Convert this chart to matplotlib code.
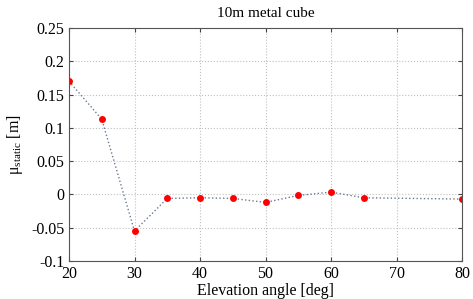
import numpy as np
import matplotlib
matplotlib.use("Agg")
import matplotlib.pyplot as plt

plt.rcParams['font.family'] = ['Liberation Serif', 'DejaVu Serif']
plt.rcParams['mathtext.fontset'] = 'custom'
plt.rcParams['mathtext.rm'] = 'Liberation Serif'
plt.rcParams['mathtext.it'] = 'Liberation Serif'

angle = [20, 25, 30, 35, 40, 45, 50, 55, 60, 65, 80]
mu_static = [0.170, 0.113, -0.055, -0.006, -0.005, -0.006, -0.012, -0.0015, 0.0035, -0.005, -0.007]

yticks = [0.25, 0.2, 0.15, 0.1, 0.05, 0, -0.05, -0.1]
ylabels = ["0.25", "0.2", "0.15", "0.1", "0.05", "0", "-0.05", "-0.1"]
xticks = [20, 30, 40, 50, 60, 70, 80]

fig = plt.figure(figsize=(4.73, 2.99), dpi=100)
ax = fig.add_axes([69/473, 1 - 261/299, (462-69)/473, (261-28)/299])
ax.plot(angle, mu_static, ':', color='#6a7a90', linewidth=1.0)
ax.plot(angle, mu_static, 'o', color='red', markersize=5, markeredgewidth=0)
ax.set_xlim(20, 80)
ax.set_ylim(-0.1, 0.25)
ax.set_xticks(xticks)
ax.set_yticks(yticks)
ax.set_yticklabels(ylabels)
ax.grid(True, linestyle=':', color='#c0c0c0', linewidth=0.8)
ax.tick_params(direction='in', labelsize=11.5, length=3, top=True, right=True, color='#444444')
for s in ax.spines.values():
    s.set_color('#555555')
    s.set_linewidth(0.8)
ax.set_title("10m metal cube", fontsize=11, pad=8)
ax.set_xlabel("Elevation angle [deg]", fontsize=11.5, labelpad=1)
ax.set_ylabel(r"$\mathrm{\mu_{static}}$ [m]", fontsize=11.5)

plt.savefig("out.png", dpi=100)
